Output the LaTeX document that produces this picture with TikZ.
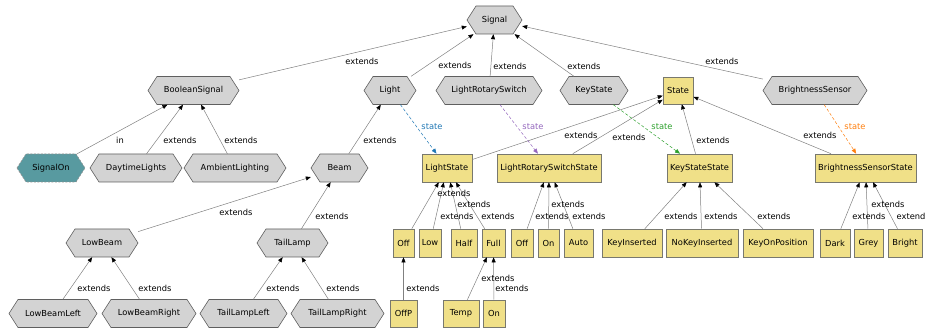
\documentclass[tikz,border=0pt]{standalone}
\usepackage{fontspec}
\setmainfont{DejaVu Sans}
\usetikzlibrary{arrows.meta}
\definecolor{hexfill}{RGB}{211,211,211}
\definecolor{hexline}{RGB}{95,95,95}
\definecolor{boxfill}{RGB}{240,224,136}
\definecolor{boxline}{RGB}{120,120,110}
\definecolor{tealfill}{RGB}{88,154,160}
\definecolor{tealline}{RGB}{140,140,140}
\definecolor{edgegrey}{RGB}{128,128,128}
\definecolor{stblue}{RGB}{31,119,180}
\definecolor{stpurple}{RGB}{148,103,189}
\definecolor{stgreen}{RGB}{44,160,44}
\definecolor{storange}{RGB}{255,127,14}
\tikzset{
 txt/.style={font=\fontsize{8.3}{10}\selectfont, text=black},
 hexname/.style={txt, inner sep=0pt, minimum height=28pt},
 hexshape/.style={fill=hexfill, draw=hexline, line width=0.6pt},
 signalon/.style={fill=tealfill, draw=tealline, dash pattern=on 2pt off 1.5pt, line width=0.6pt},
 statebox/.style={txt, rectangle, fill=boxfill, draw=boxline, line width=0.6pt, inner sep=0pt, minimum height=28pt},
 ext/.style={draw=edgegrey, line width=0.5pt, -{Triangle[length=5pt,width=4pt,color=black]}},
 stedge/.style={dash pattern=on 3pt off 2pt, line width=0.5pt, -{Triangle[length=5pt,width=4pt]}},
 lbl/.style={txt, inner sep=0pt},
}
\newcommand\hexnode[6][hexshape]{%
  \path[#1] (#3-#5/2,#4) -- (#3-#5/2+9,#4-14) -- (#3+#5/2-9,#4-14) -- (#3+#5/2,#4) -- (#3+#5/2-9,#4+14) -- (#3-#5/2+9,#4+14) -- cycle;
  \node[hexname, minimum width=#5pt] (#2) at (#3,#4) {#6};}
\begin{document}
\begin{tikzpicture}[x=1pt,y=-1pt]
\useasboundingbox (0,0) rectangle (927,331);
% hexagon nodes
\hexnode{Signal}{494.5}{20}{55}{Signal}
\hexnode{BooleanSignal}{193.5}{90.5}{91}{BooleanSignal}
\hexnode{Light}{390}{90.5}{52}{Light}
\hexnode{LightRotarySwitch}{489}{90.5}{106}{LightRotarySwitch}
\hexnode{KeyState}{594}{90.5}{68}{KeyState}
\hexnode{BrightnessSensor}{815}{90.5}{104}{BrightnessSensor}
\hexnode[signalon]{SignalOn}{51}{168}{68}{SignalOn}
\hexnode{DaytimeLights}{136}{168}{92}{DaytimeLights}
\hexnode{AmbientLighting}{235}{168}{102}{AmbientLighting}
\hexnode{Beam}{339.5}{168}{57}{Beam}
\hexnode{LowBeam}{102}{243}{72}{LowBeam}
\hexnode{TailLamp}{292.5}{243}{71}{TailLamp}
\hexnode{LowBeamLeft}{53}{313.5}{88}{LowBeamLeft}
\hexnode{LowBeamRight}{149}{313.5}{94}{LowBeamRight}
\hexnode{TailLampLeft}{243.5}{313.5}{87}{TailLampLeft}
\hexnode{TailLampRight}{337.5}{313.5}{93}{TailLampRight}
% state boxes
\node[statebox, minimum width=30pt, minimum height=27pt] (State) at (678,90.5) {State};
\node[statebox, minimum width=50pt] (LightState) at (447,168) {LightState};
\node[statebox, minimum width=104pt] (LRSS) at (549,168) {LightRotarySwitchState};
\node[statebox, minimum width=65pt] (KSS) at (699.5,168) {KeyStateState};
\node[statebox, minimum width=101pt] (BSS) at (865.5,168) {BrightnessSensorState};
\node[statebox, minimum width=21pt] (OffA) at (403.5,243) {Off};
\node[statebox, minimum width=22pt] (Low) at (430,243) {Low};
\node[statebox, minimum width=26pt] (Half) at (464,243) {Half};
\node[statebox, minimum width=23pt] (Full) at (493.5,243) {Full};
\node[statebox, minimum width=22pt] (OffB) at (522,243) {Off};
\node[statebox, minimum width=21pt] (OnA) at (548.5,243) {On};
\node[statebox, minimum width=29pt] (Auto) at (578.5,243) {Auto};
\node[statebox, minimum width=60pt] (KeyInserted) at (632,243) {KeyInserted};
\node[statebox, minimum width=72pt] (NoKeyInserted) at (702,243) {NoKeyInserted};
\node[statebox, minimum width=70pt] (KeyOnPosition) at (778,243) {KeyOnPosition};
\node[statebox, minimum width=30pt] (Dark) at (835,243) {Dark};
\node[statebox, minimum width=29pt] (Grey) at (868.5,243) {Grey};
\node[statebox, minimum width=34pt] (Bright) at (905,243) {Bright};
\node[statebox, minimum width=27pt, minimum height=27pt] (OffP) at (403.5,313.5) {OffP};
\node[statebox, minimum width=36pt, minimum height=27pt] (Temp) at (461,313.5) {Temp};
\node[statebox, minimum width=22pt, minimum height=27pt] (OnB) at (494,313.5) {On};
% extends edges
\draw[ext] (BooleanSignal) -- (Signal);
\draw[ext] (Light) -- (Signal);
\draw[ext] (LightRotarySwitch) -- (Signal);
\draw[ext] (KeyState) -- (Signal);
\draw[ext] (BrightnessSensor) -- (Signal);
\draw[ext] (SignalOn) -- (BooleanSignal);
\draw[ext] (DaytimeLights) -- (BooleanSignal);
\draw[ext] (AmbientLighting) -- (BooleanSignal);
\draw[ext] (Beam) -- (Light);
\draw[ext] (LowBeam) -- (Beam);
\draw[ext] (TailLamp) -- (Beam);
\draw[ext] (LowBeamLeft) -- (LowBeam);
\draw[ext] (LowBeamRight) -- (LowBeam);
\draw[ext] (TailLampLeft) -- (TailLamp);
\draw[ext] (TailLampRight) -- (TailLamp);
\draw[ext] (LightState) -- (State);
\draw[ext] (LRSS) -- (State);
\draw[ext] (KSS) -- (State);
\draw[ext] (BSS) -- (State);
\draw[ext] (OffA) -- (LightState);
\draw[ext] (Low) -- (LightState);
\draw[ext] (Half) -- (LightState);
\draw[ext] (Full) -- (LightState);
\draw[ext] (OffB) -- (LRSS);
\draw[ext] (OnA) -- (LRSS);
\draw[ext] (Auto) -- (LRSS);
\draw[ext] (KeyInserted) -- (KSS);
\draw[ext] (NoKeyInserted) -- (KSS);
\draw[ext] (KeyOnPosition) -- (KSS);
\draw[ext] (Dark) -- (BSS);
\draw[ext] (Grey) -- (BSS);
\draw[ext] (Bright) -- (BSS);
\draw[ext] (OffP) -- (OffA);
\draw[ext] (Temp) -- (Full);
\draw[ext] (OnB) -- (Full);
% state edges
\draw[stedge, stblue] (Light) -- (LightState);
\draw[stedge, stpurple] (LightRotarySwitch) -- (LRSS);
\draw[stedge, stgreen] (KeyState) -- (KSS);
\draw[stedge, storange] (BrightnessSensor) -- (BSS);
% labels
\node[lbl] (l1) at (362,61) {extends};
\node[lbl] (l2) at (455,65) {extends};
\node[lbl] (l3) at (510,66) {extends};
\node[lbl] (l4) at (584,66) {extends};
\node[lbl] (l5) at (722,61) {extends};
\node[lbl, text=stblue] (s1) at (432,127) {state};
\node[lbl, text=stpurple] (s2) at (533,127) {state};
\node[lbl, text=stgreen] (s3) at (662,127) {state};
\node[lbl, text=storange] (s4) at (855,127) {state};
\node[lbl] (l6) at (581,135) {extends};
\node[lbl] (l7) at (629,137) {extends};
\node[lbl] (l8) at (713,140) {extends};
\node[lbl] (l9) at (820,135) {extends};
\node[lbl] (l10) at (120,140) {in};
\node[lbl] (l11) at (180,140) {extends};
\node[lbl] (l12) at (241,140) {extends};
\node[lbl] (l13) at (380,140) {extends};
\node[lbl] (l14) at (236,212) {extends};
\node[lbl] (l15) at (332,216) {extends};
\node[lbl] (l16) at (94,288) {extends};
\node[lbl] (l17) at (155,288) {extends};
\node[lbl] (l18) at (283,288) {extends};
\node[lbl] (l19) at (343,288) {extends};
\node[lbl] (l20) at (423,288) {extends};
\node[lbl] (l21) at (454,193) {extends};
\node[lbl] (l22) at (474,204) {extends};
\node[lbl] (l23) at (457,216) {extends};
\node[lbl] (l24) at (498,216) {extends};
\node[lbl] (l25) at (568,204) {extends};
\node[lbl] (l26) at (552,216) {extends};
\node[lbl] (l27) at (589,216) {extends};
\node[lbl] (l28) at (498,278) {extends};
\node[lbl] (l29) at (512,288) {extends};
\node[lbl] (l30) at (681,216) {extends};
\node[lbl] (l31) at (721,216) {extends};
\node[lbl] (l32) at (774,216) {extends};
\node[lbl] (l33) at (888,204) {extends};
\node[lbl] (l34) at (869,216) {extends};
\node[lbl] (l35) at (911,216) {extend};
\end{tikzpicture}
\end{document}
